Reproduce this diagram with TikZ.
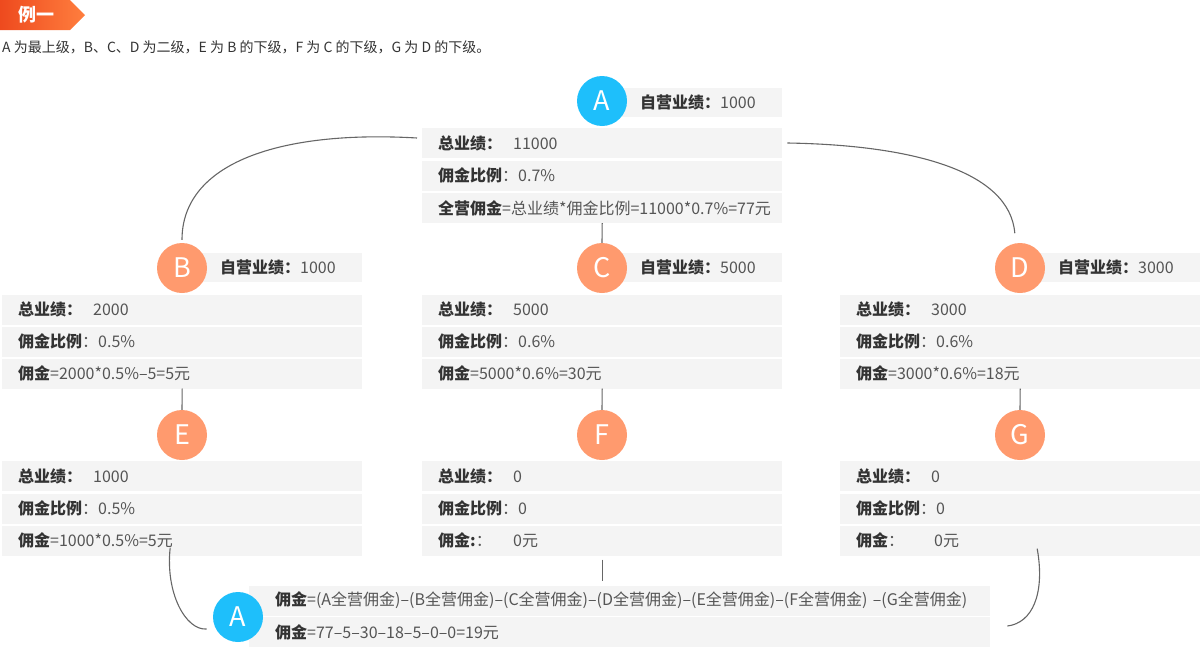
\documentclass[tikz,border=0pt]{standalone}
\usepackage{fontspec}
\setmainfont{Noto Sans CJK SC}
\definecolor{boxgray}{HTML}{F4F4F4}
\definecolor{labcol}{HTML}{333333}
\definecolor{valcol}{HTML}{555555}
\definecolor{linegray}{HTML}{666666}
\definecolor{orangec}{HTML}{FF9A6E}
\definecolor{cyanc}{HTML}{1EBFFB}
\definecolor{tagdark}{HTML}{EE4A1E}
\definecolor{taglight}{HTML}{FF7E3E}
\newcommand{\lb}[1]{\textcolor{labcol}{\bfseries #1}}
\newcommand{\tot}[1]{\makebox[75pt][l]{\lb{总业绩：}}#1}
\newcommand{\rat}[1]{\makebox[80pt][l]{\lb{佣金比例}：}#1}
\begin{document}
\begin{tikzpicture}[x=1pt,y=-1pt,
  font=\fontsize{16}{19}\selectfont,
  row/.style={fill=boxgray, anchor=west, minimum height=30pt, inner xsep=16pt, inner ysep=0pt,
    text width=328pt, align=left, text=valcol},
  selfrow/.style={fill=boxgray, anchor=west, minimum height=29pt, inner xsep=18pt, inner ysep=0pt,
    text width=124pt, align=left, text=valcol},
  botrow/.style={fill=boxgray, anchor=west, minimum height=30pt, inner xsep=26pt, inner ysep=0pt,
    text width=689pt, align=left, text=valcol},
  circ/.style={circle, minimum size=50pt, inner sep=0pt, text=white, font=\fontsize{27}{27}\selectfont},
  oc/.style={circ, fill=orangec},
  cc/.style={circ, fill=cyanc},
  link/.style={draw=linegray, line width=1.1pt}
]
\useasboundingbox (0,0) rectangle (1200,648);

% header tag
\shade[left color=tagdark, right color=taglight] (0,0) -- (70,0) -- (85,15) -- (70,30) -- (0,30) -- cycle;
\node[text=white, font=\fontsize{18}{18}\selectfont\bfseries] (tag) at (37,15) {例一};
\node[anchor=west, text=labcol, font=\fontsize{14}{16}\selectfont, inner sep=0pt] (sub) at (2,47)
  {A 为最上级，B、C、D 为二级，E 为 B 的下级，F 为 C 的下级，G 为 D 的下级。};

% A (top)
\node[selfrow] (As) at (622,102) {\lb{自营业绩：}1000};
\node[cc] (A) at (602,101) {A};
\node[row] (A1) at (422,143) {\tot{11000}};
\node[row] (A2) at (422,175.5) {\rat{0.7\%}};
\node[row] (A3) at (422,208) {\lb{全营佣金}=总业绩*佣金比例=11000*0.7\%=77元};

% level 2
\node[selfrow] (Bs) at (202,267.5) {\lb{自营业绩：}1000};
\node[oc] (B) at (182,268) {B};
\node[row] (B1) at (2,309.5) {\tot{2000}};
\node[row] (B2) at (2,341.5) {\rat{0.5\%}};
\node[row] (B3) at (2,373.5) {\lb{佣金}=2000*0.5\%–5=5元};

\node[selfrow] (Cs) at (622,267.5) {\lb{自营业绩：}5000};
\node[oc] (C) at (602,268) {C};
\node[row] (C1) at (422,309.5) {\tot{5000}};
\node[row] (C2) at (422,341.5) {\rat{0.6\%}};
\node[row] (C3) at (422,373.5) {\lb{佣金}=5000*0.6\%=30元};

\node[selfrow] (Ds) at (1040,267.5) {\lb{自营业绩：}3000};
\node[oc] (D) at (1020,268) {D};
\node[row] (D1) at (840,309.5) {\tot{3000}};
\node[row] (D2) at (840,341.5) {\rat{0.6\%}};
\node[row] (D3) at (840,373.5) {\lb{佣金}=3000*0.6\%=18元};

% level 3
\node[oc] (E) at (182,435) {E};
\node[row] (E1) at (2,476) {\tot{1000}};
\node[row] (E2) at (2,508.5) {\rat{0.5\%}};
\node[row] (E3) at (2,540.5) {\lb{佣金}=1000*0.5\%=5元};

\node[oc] (F) at (602,435) {F};
\node[row] (F1) at (422,476) {\tot{0}};
\node[row] (F2) at (422,508.5) {\rat{0}};
\node[row] (F3) at (422,540.5) {\makebox[75pt][l]{\lb{佣金:}：}0元};

\node[oc] (G) at (1020,435) {G};
\node[row] (G1) at (840,476) {\tot{0}};
\node[row] (G2) at (840,508.5) {\rat{0}};
\node[row] (G3) at (840,540.5) {\makebox[78pt][l]{\lb{佣金}：}0元};

% bottom
\node[botrow] (R1) at (249,600.5) {\mbox{\lb{佣金}=(A全营佣金)–(B全营佣金)–(C全营佣金)–(D全营佣金)–(E全营佣金)–(F全营佣金) –(G全营佣金)}};
\node[botrow] (R2) at (249,632) {\lb{佣金}=77–5–30–18–5–0–0=19元};
\node[cc] (Ab) at (238,617) {A};

% connectors
\draw[link] (A3.south) -- (C.north);
\draw[link] (B3.south) -- (E.north);
\draw[link] (C3.south) -- (F.north);
\draw[link] (D3.south) -- (G.north);
\draw[link, shorten >=3pt] ([xshift=-5pt,yshift=5pt]A1.west) .. controls +(-137,-8) and +(0,-80) .. (B.north);
\draw[link, shorten >=10pt] ([xshift=5pt]A1.east) .. controls +(123,2) and +(-6,-73) .. (D.100);
\draw[link, shorten <=4pt, shorten >=4pt] (F3.south) -- (F3.south |- R1.north);
\draw[link, shorten >=9pt] ([xshift=-12pt,yshift=8pt]E3.south) .. controls +(-5,45) and +(-30,2) .. (Ab.207);
\draw[link] ([xshift=17pt,yshift=7pt]G3.south) .. controls +(8,45) and +(25,-3) .. ([xshift=17pt,yshift=6pt]R2.east);
\end{tikzpicture}
\end{document}
